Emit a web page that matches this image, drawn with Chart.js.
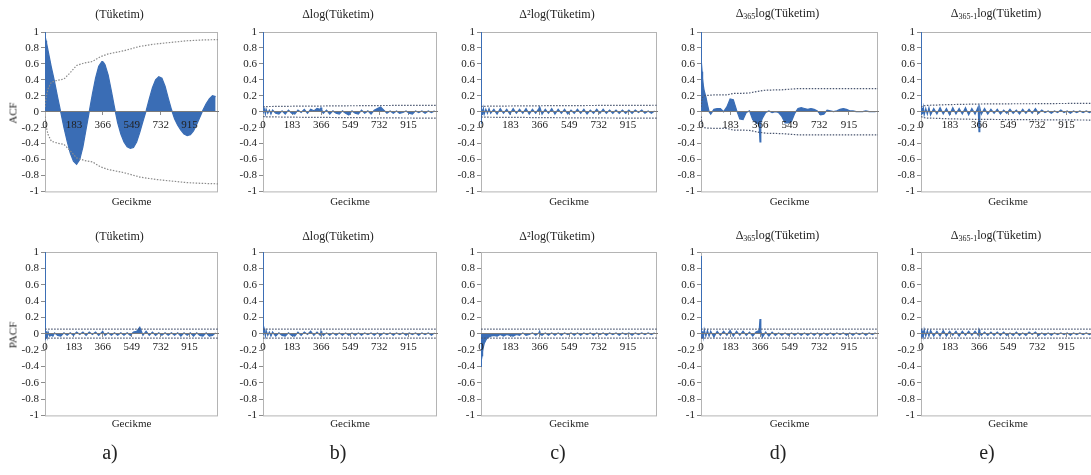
<!DOCTYPE html>
<html>
<head>
<meta charset="utf-8">
<script src="https://cdn.jsdelivr.net/npm/chart.js@4.4.1/dist/chart.umd.min.js"></script>
<style>
    html, body { margin: 0; padding: 0; background: #fff; overflow: hidden; }
    #fig { position: relative; width: 1091px; height: 475px; overflow: hidden;
           font-family: "Liberation Serif", "Times New Roman", serif; color: #222; }
    #fig canvas { position: absolute; }
    .txt { position: absolute; white-space: nowrap; transform: translate(-50%, -50%); line-height: 1; }
    .ttl { font-size: 12px; }
    .ttl sub { font-size: 8px; vertical-align: -2px; }
    .xl { font-size: 11px; }
    .yl { font-size: 11px; transform: translate(-50%, -50%) rotate(-90deg); }
    .lbl { font-size: 20px; }
</style>
</head>
<body>
<div id="fig"></div>
<script>
(function () {
    "use strict";

    var LAGS = [0, 1, 2, 4, 7, 10, 15, 20, 30, 40, 50, 60, 80, 100, 120,
        140, 160, 180, 200, 220, 240, 260, 280, 300, 320, 340, 360, 365, 370, 380,
        400, 420, 440, 460, 480, 500, 520, 540, 560, 580, 600, 620, 640, 660, 680,
        700, 720, 740, 760, 780, 800, 820, 840, 860, 880, 900, 920, 940, 960, 980,
        1000, 1020, 1040, 1060, 1080];
    var BAND_LAGS = [1, 5, 10, 20, 40, 80, 120, 160, 200, 250, 300, 350, 400, 500, 600, 700, 800, 900, 1000, 1095];
    var X_TICKS = [0, 183, 366, 549, 732, 915];
    var Y_TICKS = [-1, -0.8, -0.6, -0.4, -0.2, 0, 0.2, 0.4, 0.6, 0.8, 1];

    var TITLES = ["(Tüketim)", "Δlog(Tüketim)", "Δ²log(Tüketim)",
        "Δ<sub>365</sub>log(Tüketim)", "Δ<sub>365-1</sub>log(Tüketim)"];
    var PANEL_LABELS = ["a)", "b)", "c)", "d)", "e)"];
    var ROW_NAMES = ["ACF", "PACF"];

    // ACF (top row)
    var acfA = [1.00, 0.98, 0.96, 0.93, 0.89, 0.86, 0.81, 0.76, 0.66, 0.56,
        0.47, 0.38, 0.18, -0.01, -0.20, -0.37, -0.52, -0.62, -0.66, -0.60,
        -0.44, -0.22, 0.00, 0.22, 0.42, 0.57, 0.63, 0.63, 0.62, 0.59,
        0.46, 0.26, 0.05, -0.14, -0.28, -0.38, -0.44, -0.46, -0.45, -0.38,
        -0.26, -0.12, 0.01, 0.16, 0.30, 0.40, 0.44, 0.42, 0.32, 0.17,
        0.03, -0.09, -0.17, -0.23, -0.28, -0.30, -0.29, -0.24, -0.16, -0.07,
        0.02, 0.10, 0.16, 0.20, 0.19];
    var acfB = [1.00, 0.05, 0.03, -0.02, 0.04, 0.02, -0.03, 0.03, -0.02, 0.02,
        -0.03, 0.02, -0.02, -0.03, 0.01, -0.03, 0.02, -0.02, -0.03, 0.02,
        -0.01, 0.03, -0.02, 0.03, 0.01, 0.04, 0.03, 0.05, 0.02, -0.02,
        0.02, -0.03, 0.01, -0.02, -0.03, 0.01, -0.02, -0.04, 0.01, -0.02,
        -0.03, 0.02, -0.02, 0.01, -0.03, 0.02, 0.04, 0.06, 0.02, -0.02,
        0.01, -0.02, 0.01, -0.02, -0.01, 0.01, -0.02, -0.03, 0.01, -0.01,
        0.01, -0.02, 0.01, -0.01, 0.01];
    var acfC = [1.00, -0.15, -0.10, -0.06, 0.03, -0.04, 0.04, -0.03, 0.03, -0.02,
        0.04, -0.02, 0.03, -0.03, 0.04, -0.02, 0.03, -0.03, 0.04, -0.02,
        0.03, -0.02, 0.04, -0.03, 0.03, -0.02, 0.04, 0.06, 0.03, -0.03,
        0.03, -0.02, 0.04, -0.03, 0.03, -0.02, 0.03, -0.03, 0.02, -0.02,
        0.03, -0.02, 0.03, -0.03, 0.02, -0.02, 0.03, -0.02, 0.03, -0.02,
        0.02, -0.02, 0.02, -0.02, 0.02, -0.02, 0.02, -0.02, 0.02, -0.01,
        0.02, -0.02, 0.01, -0.02, 0.01];
    var acfD = [1.00, 0.90, 0.78, 0.62, 0.50, 0.42, 0.32, 0.26, 0.19, 0.09,
        0.00, -0.03, 0.03, 0.04, 0.04, 0.00, 0.06, 0.16, 0.15, 0.02,
        -0.09, -0.10, -0.01, 0.01, -0.10, -0.14, -0.16, -0.38, -0.14, -0.08,
        -0.01, 0.01, -0.01, 0.00, -0.01, -0.06, -0.14, -0.14, -0.12, -0.02,
        0.04, 0.05, 0.04, 0.03, 0.04, 0.03, 0.01, -0.04, -0.03, 0.02,
        0.01, 0.00, 0.01, 0.03, 0.04, 0.03, 0.01, 0.01, 0.00, 0.00,
        0.00, 0.01, 0.00, 0.00, 0.00];
    var acfE = [1.00, 0.06, 0.05, -0.04, 0.05, -0.03, 0.05, -0.04, 0.04, -0.03,
        0.05, -0.04, 0.04, -0.03, 0.05, -0.03, 0.04, -0.04, 0.05, -0.03,
        0.04, -0.03, 0.05, -0.04, 0.04, -0.03, 0.06, -0.25, 0.05, -0.03,
        0.04, -0.03, 0.03, -0.02, 0.03, -0.03, 0.02, -0.02, 0.03, -0.02,
        0.02, -0.03, 0.03, -0.02, 0.03, -0.02, 0.04, -0.02, 0.02, -0.01,
        0.01, -0.02, 0.01, -0.01, 0.02, -0.01, 0.01, -0.02, 0.01, -0.01,
        0.01, -0.01, 0.01, -0.01, 0.01];

    // PACF (bottom row)
    var pacfA = [1.00, 0.96, -0.08, 0.04, -0.05, 0.03, -0.04, 0.02, -0.03, -0.02,
        -0.03, 0.01, -0.02, -0.03, 0.01, -0.02, 0.01, -0.02, 0.02, -0.01,
        0.02, -0.02, 0.02, -0.01, 0.02, -0.02, 0.02, 0.03, 0.01, -0.02,
        0.01, -0.02, 0.01, -0.02, 0.01, -0.02, 0.01, -0.02, 0.02, 0.03,
        0.08, -0.02, 0.03, -0.02, 0.02, -0.02, 0.01, -0.02, 0.01, -0.02,
        0.01, -0.02, 0.01, -0.03, 0.01, -0.02, 0.01, -0.03, 0.01, -0.02,
        -0.03, 0.01, -0.03, -0.02, 0.01];
    var pacfB = [1.00, 0.04, -0.02, 0.03, 0.06, 0.02, -0.03, 0.04, -0.02, 0.02,
        -0.03, 0.02, -0.03, 0.01, -0.02, -0.03, 0.01, -0.02, -0.03, 0.02,
        -0.02, 0.02, -0.01, 0.03, -0.02, 0.02, -0.02, 0.03, 0.01, -0.02,
        0.01, -0.02, 0.01, -0.02, 0.01, -0.02, 0.01, -0.02, 0.01, -0.02,
        0.01, -0.02, 0.01, -0.01, 0.01, -0.02, 0.01, -0.02, 0.01, -0.01,
        0.01, -0.02, 0.01, -0.01, 0.01, -0.02, 0.01, -0.01, 0.01, -0.02,
        0.01, -0.01, 0.01, -0.02, 0.01];
    var pacfC = [-0.40, -0.40, -0.36, -0.32, -0.27, -0.22, -0.16, -0.12, -0.08, -0.05,
        -0.04, -0.03, -0.02, -0.03, -0.01, -0.03, -0.01, -0.02, -0.03, -0.01,
        -0.02, 0.01, -0.02, -0.01, 0.01, -0.02, 0.01, 0.03, -0.01, -0.02,
        0.01, -0.02, 0.01, -0.02, 0.01, -0.02, 0.01, -0.01, 0.01, -0.02,
        0.01, -0.02, 0.01, -0.01, 0.01, -0.02, 0.01, -0.01, 0.01, -0.02,
        0.01, -0.01, 0.01, -0.02, 0.01, -0.01, 0.01, -0.02, 0.01, -0.01,
        0.01, -0.01, 0.01, -0.01, 0.01];
    var pacfD = [0.95, 0.05, -0.06, 0.04, -0.05, 0.03, -0.04, 0.05, -0.03, 0.04,
        -0.03, 0.03, -0.04, 0.03, -0.02, 0.03, -0.02, 0.04, -0.03, 0.03,
        -0.02, 0.03, -0.02, 0.02, -0.03, 0.02, 0.04, 0.18, 0.03, -0.04,
        0.02, -0.03, 0.02, -0.02, 0.01, -0.02, 0.01, -0.02, 0.01, -0.02,
        0.01, -0.02, 0.01, -0.02, 0.01, -0.02, 0.01, -0.02, 0.01, -0.02,
        0.01, -0.02, 0.01, -0.01, 0.01, -0.02, 0.01, -0.02, 0.01, -0.01,
        0.01, -0.02, 0.01, -0.01, 0.01];
    var pacfE = [0.06, 0.05, -0.05, 0.04, -0.04, 0.04, -0.03, 0.05, -0.03, 0.04,
        -0.03, 0.04, -0.03, 0.03, -0.03, 0.04, -0.03, 0.03, -0.02, 0.03,
        -0.03, 0.03, -0.02, 0.03, -0.02, 0.03, -0.02, 0.05, 0.02, -0.02,
        0.02, -0.02, 0.02, -0.02, 0.02, -0.02, 0.02, -0.02, 0.01, -0.02,
        0.02, -0.02, 0.01, -0.02, 0.02, -0.01, 0.02, -0.02, 0.01, -0.02,
        0.01, -0.02, 0.01, -0.01, 0.01, -0.01, 0.01, -0.02, 0.01, -0.01,
        0.01, -0.01, 0.01, -0.01, 0.01];

    // upper confidence limit of the ACF (the lower one is its mirror)
    var bandA = [0.06, 0.15, 0.21, 0.29, 0.37, 0.395, 0.41, 0.49, 0.58, 0.612,
        0.63, 0.69, 0.725, 0.765, 0.82, 0.85, 0.87, 0.89, 0.9, 0.905];
    var bandB = [0.06, 0.062, 0.063, 0.064, 0.065, 0.066, 0.067, 0.068, 0.069, 0.07,
        0.07, 0.071, 0.072, 0.074, 0.075, 0.077, 0.078, 0.079, 0.08, 0.08];
    var bandC = [0.065, 0.066, 0.067, 0.068, 0.069, 0.07, 0.07, 0.071, 0.072, 0.072,
        0.073, 0.074, 0.075, 0.076, 0.077, 0.078, 0.079, 0.08, 0.08, 0.081];
    var bandD = [0.06, 0.14, 0.18, 0.2, 0.205, 0.21, 0.21, 0.21, 0.23, 0.23,
        0.235, 0.255, 0.27, 0.275, 0.29, 0.29, 0.29, 0.29, 0.29, 0.29];
    var bandE = [0.06, 0.065, 0.07, 0.075, 0.08, 0.082, 0.085, 0.088, 0.09, 0.092,
        0.094, 0.096, 0.097, 0.098, 0.1, 0.1, 0.102, 0.103, 0.104, 0.105];
    // PACF limit is flat
    var PACF_BAND = [0.055, 0.055, 0.055, 0.055, 0.055];

    var ACF = [acfA, acfB, acfC, acfD, acfE];
    var PACF = [pacfA, pacfB, pacfC, pacfD, pacfE];
    var ACF_BANDS = [bandA, bandB, bandC, bandD, bandE];

    // layout (pixels)
    var COL_LEFT = [45, 263, 481, 701, 921];
    var COL_WIDTH = [173, 174, 176, 177, 174];
    var ROW_TOP = [32, 252];
    var ROW_BOTTOM = [193, 417];
    var TITLE_Y = [14, 236];
    var XLABEL_Y = [201, 423];
    var LABEL_X = [110, 338, 558, 778, 987];
    var AXIS_W = 45, PAD_TOP = 32, PAD_BOTTOM = 7, PAD_RIGHT = 4;

    var BLUE = "#3a6db5";
    var FONT = { family: "'Liberation Serif', 'Times New Roman', serif", size: 11 };

    var fig = document.getElementById("fig");

    function addText(cls, html, x, y) {
        var d = document.createElement("div");
        d.className = "txt " + cls;
        d.innerHTML = html;
        d.style.left = x + "px";
        d.style.top = y + "px";
        fig.appendChild(d);
    }

    var plotBox = {
        id: "plotBox",
        beforeDatasetsDraw: function (chart) {
            var a = chart.chartArea, ctx = chart.ctx;
            ctx.save();
            ctx.strokeStyle = "#b4b4b4";
            ctx.lineWidth = 1;
            ctx.strokeRect(a.left + 0.5, a.top + 0.5, a.right - a.left - 1, a.bottom - a.top);
            ctx.restore();
        }
    };

    function points(xs, ys, sign) {
        return xs.map(function (x, i) { return { x: x, y: sign * ys[i] }; });
    }

    function drawPanel(row, col) {
        var vals = row === 0 ? ACF[col] : PACF[col];
        var bandLags, band;
        if (row === 0) {
            bandLags = BAND_LAGS;
            band = ACF_BANDS[col];
        } else {
            bandLags = [BAND_LAGS[0], BAND_LAGS[BAND_LAGS.length - 1]];
            band = [PACF_BAND[col], PACF_BAND[col]];
        }
        var bandColor = (row === 0 && col === 0) ? "#8a8a8a" : "#4a5670";

        var canvas = document.createElement("canvas");
        var w = AXIS_W + COL_WIDTH[col] + PAD_RIGHT;
        var h = ROW_BOTTOM[row] - ROW_TOP[row] + PAD_TOP + PAD_BOTTOM;
        canvas.width = w;
        canvas.height = h;
        canvas.style.left = (COL_LEFT[col] - AXIS_W) + "px";
        canvas.style.top = (ROW_TOP[row] - PAD_TOP) + "px";
        canvas.style.width = w + "px";
        canvas.style.height = h + "px";
        fig.appendChild(canvas);

        var bandStyle = { borderColor: bandColor, borderWidth: 1.2, borderDash: [1.5, 1.5],
            pointRadius: 0, fill: false, tension: 0 };

        new Chart(canvas.getContext("2d"), {
            type: "line",
            data: {
                datasets: [
                    Object.assign({ data: points(bandLags, band, 1) }, bandStyle),
                    Object.assign({ data: points(bandLags, band, -1) }, bandStyle),
                    {
                        data: points(LAGS, vals, 1),
                        borderColor: BLUE,
                        backgroundColor: BLUE,
                        borderWidth: 1.2,
                        pointRadius: 0,
                        tension: 0,
                        fill: "origin"
                    }
                ]
            },
            options: {
                responsive: false,
                animation: false,
                events: [],
                layout: { padding: { top: PAD_TOP, bottom: PAD_BOTTOM, right: PAD_RIGHT, left: 0 } },
                plugins: { legend: { display: false }, tooltip: { enabled: false } },
                scales: {
                    x: {
                        type: "linear",
                        min: 0,
                        max: 1095,
                        position: { y: 0 },
                        afterBuildTicks: function (s) { s.ticks = X_TICKS.map(function (v) { return { value: v }; }); },
                        afterFit: function (s) { s.height = 0; },
                        // labels are drawn over the filled ACF
                        ticks: { z: 1, font: FONT, color: "#222", padding: 4, maxRotation: 0, autoSkip: false,
                            callback: function (v) { return String(v); } },
                        grid: { drawOnChartArea: false, tickLength: 3, color: "#8c8c8c" },
                        border: { z: 1, color: "#7a7a7a" }
                    },
                    y: {
                        type: "linear",
                        min: -1,
                        max: 1,
                        afterBuildTicks: function (s) { s.ticks = Y_TICKS.map(function (v) { return { value: v }; }); },
                        afterFit: function (s) { s.width = AXIS_W; },
                        ticks: { font: FONT, color: "#222", padding: 2, autoSkip: false,
                            callback: function (v) { return String(v); } },
                        grid: { drawOnChartArea: false, tickLength: 4, color: "#8c8c8c" },
                        border: { color: "#8c8c8c" }
                    }
                }
            },
            plugins: [plotBox]
        });

        var plotCenter = COL_LEFT[col] + COL_WIDTH[col] / 2;
        addText("ttl", TITLES[col], plotCenter - 12, TITLE_Y[row]);
        addText("xl", "Gecikme", plotCenter, XLABEL_Y[row]);
    }

    for (var r = 0; r < 2; r++) {
        for (var c = 0; c < 5; c++) {
            drawPanel(r, c);
        }
        addText("yl", ROW_NAMES[r], 13, (ROW_TOP[r] + ROW_BOTTOM[r]) / 2);
    }
    PANEL_LABELS.forEach(function (t, i) { addText("lbl", t, LABEL_X[i], 452); });
})();
</script>
</body>
</html>
